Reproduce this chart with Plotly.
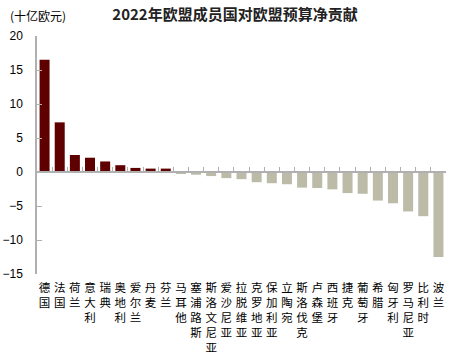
import plotly.graph_objects as go

countries = ["德国", "法国", "荷兰", "意大利", "瑞典", "奥地利", "爱尔兰", "丹麦", "芬兰",
             "马耳他", "塞浦路斯", "斯洛文尼亚", "爱沙尼亚", "拉脱维亚", "克罗地亚", "保加利亚",
             "立陶宛", "斯洛伐克", "卢森堡", "西班牙", "捷克", "葡萄牙", "希腊", "匈牙利",
             "罗马尼亚", "比利时", "波兰"]
values = [16.5, 7.3, 2.5, 2.1, 1.55, 1.0, 0.6, 0.5, 0.5,
          -0.2, -0.4, -0.6, -0.9, -1.05, -1.5, -1.65,
          -1.8, -2.3, -2.35, -2.55, -3.1, -3.2, -4.2, -4.6,
          -5.8, -6.5, -12.5]
y_ticks = [-15, -10, -5, 0, 5, 10, 15, 20]

POS = "#5e0000"
NEG = "#bbbba8"
AXIS = "#b0b0b0"
W, H = 473, 355
L, R, T, B = 37, 27, 35.6, 81

labels = ["<br>".join(list(c)) for c in countries]
colors = [POS if v > 0 else NEG for v in values]

fig = go.Figure()
fig.add_bar(x=countries, y=values, marker=dict(color=colors, line=dict(width=0)),
            width=0.66, showlegend=False, hoverinfo="x+y")
fig.add_scatter(x=countries, y=[0] * len(countries), xaxis="x2", mode="markers",
                marker=dict(opacity=0), showlegend=False, hoverinfo="skip")

zero_frac = (0 - y_ticks[0]) / (y_ticks[-1] - y_ticks[0])

fig.update_layout(
    width=W, height=H,
    margin=dict(l=L, r=R, t=T, b=B, pad=0, autoexpand=False),
    plot_bgcolor="white", paper_bgcolor="white",
    font=dict(family="Noto Sans CJK SC", size=12, color="#000"),
    title=dict(text="<b>2022年欧盟成员国对欧盟预算净贡献</b>",
               font=dict(family="Noto Sans CJK SC", size=15, color="#222"),
               x=235 / W, xanchor="center", y=1 - 15 / H, yanchor="middle"),
    xaxis=dict(type="category", categoryorder="array", categoryarray=countries,
               tickvals=countries, ticktext=labels, tickangle=0,
               ticks="outside", ticklen=3, tickcolor="rgba(0,0,0,0)",
               showline=False, showgrid=False, zeroline=False,
               automargin=False,
               range=[-0.5, len(countries) - 0.5],
               tickfont=dict(family="Noto Sans CJK SC", size=11.5, color="#000")),
    xaxis2=dict(type="category", categoryorder="array", categoryarray=countries,
                overlaying="x", anchor="free", position=zero_frac, side="bottom",
                range=[-0.5, len(countries) - 0.5], automargin=False,
                showline=True, linecolor=AXIS, linewidth=1.5,
                ticks="inside", tickson="boundaries", ticklen=4, tickcolor=AXIS,
                showticklabels=False, showgrid=False, zeroline=False),
    yaxis=dict(range=[y_ticks[0], y_ticks[-1]], tickvals=y_ticks,
               ticks="inside", ticklen=5, tickcolor=AXIS,
               showline=True, linecolor=AXIS, linewidth=1.5,
               showgrid=False, zeroline=False, automargin=False,
               tickfont=dict(family="Liberation Sans", size=12, color="#000"),
               ticklabelstandoff=10),
    annotations=[dict(text="(十亿欧元)", xref="paper", yref="paper",
                      x=(8 - L) / (W - L - R), y=1 + (T - 15) / (H - T - B),
                      xanchor="left", yanchor="middle", showarrow=False,
                      font=dict(family="Noto Sans CJK SC", size=12, color="#000"))],
)

fig.write_html("out.html", config={"displayModeBar": False},
               post_script="document.body.style.margin='0';document.body.style.overflow='hidden';")
